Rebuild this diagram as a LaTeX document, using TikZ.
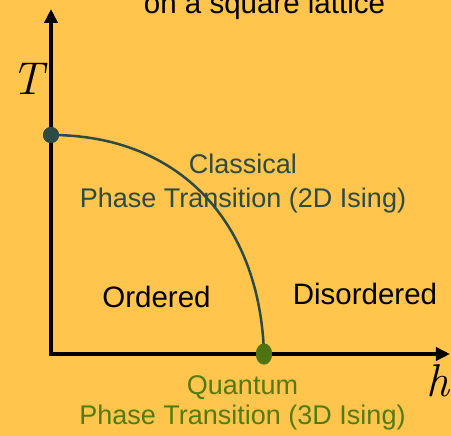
\documentclass[tikz,border=0pt]{standalone}
\usepackage{fontspec}
\setsansfont{Liberation Sans}
\usetikzlibrary{arrows.meta,shapes.geometric}
\definecolor{sfondo}{RGB}{255,197,76}
\definecolor{classico}{RGB}{46,74,68}
\definecolor{quantico}{RGB}{84,122,16}
\definecolor{puntoq}{RGB}{78,116,18}

\begin{document}
\begin{tikzpicture}[>={Triangle[length=14pt,width=13pt]}, x=1pt, y=1pt,
    etichetta/.style={font=\sffamily\fontsize{27}{27}\selectfont, inner sep=0},
    fase/.style={font=\sffamily\fontsize{29.5}{29.5}\selectfont, inner sep=0},
    asse/.style={font=\rmfamily\itshape\fontsize{46}{46}\selectfont, inner sep=0}]
    % Sfondo
    \clip (-51,-82) rectangle (400,354);
    \fill[sfondo] (-51,-82) rectangle (400,354);

    % Titolo
    \node[fase, anchor=base] (titolo) at (213.5,340.5) {on a square lattice};

    % Assi
    \coordinate (O) at (0,0);
    \coordinate (ytip) at (0,345);
    \coordinate (xtip) at (399,0);
    \draw[<->, line width=3.5pt] (ytip) -- (O) -- (xtip);
    \node[asse, anchor=base] (T) at (-23,259) {T};
    \node[asse, anchor=base] (h) at (387,-43) {h};

    % Punti critici
    \node[circle, fill=classico, inner sep=0, minimum size=16pt] (tc) at (0,219) {};
    \node[ellipse, fill=puntoq, inner sep=0, minimum width=16pt, minimum height=21pt] (qc) at (213,0) {};

    % Linea di transizione
    \draw[classico, line width=2.5pt] (tc.center) .. controls (128,219) and (209,132) .. (qc.center);
    \node[circle, fill=classico, inner sep=0, minimum size=16pt] at (tc) {};
    \node[ellipse, fill=puntoq, inner sep=0, minimum width=16pt, minimum height=21pt] at (qc) {};

    % Etichette
    \node[etichetta, text=classico, anchor=base] (cl1) at (192,180) {Classical};
    \node[etichetta, text=classico, anchor=base] (cl2) at (192,146) {Phase Transition (2D Ising)};
    \node[fase, anchor=base] (ord) at (105.5,46) {Ordered};
    \node[fase, anchor=base] (dis) at (314,49) {Disordered};
    \node[etichetta, text=quantico, anchor=base] (qu1) at (191.5,-41) {Quantum};
    \node[etichetta, text=quantico, anchor=base] (qu2) at (191.5,-71) {Phase Transition (3D Ising)};
\end{tikzpicture}
\end{document}
